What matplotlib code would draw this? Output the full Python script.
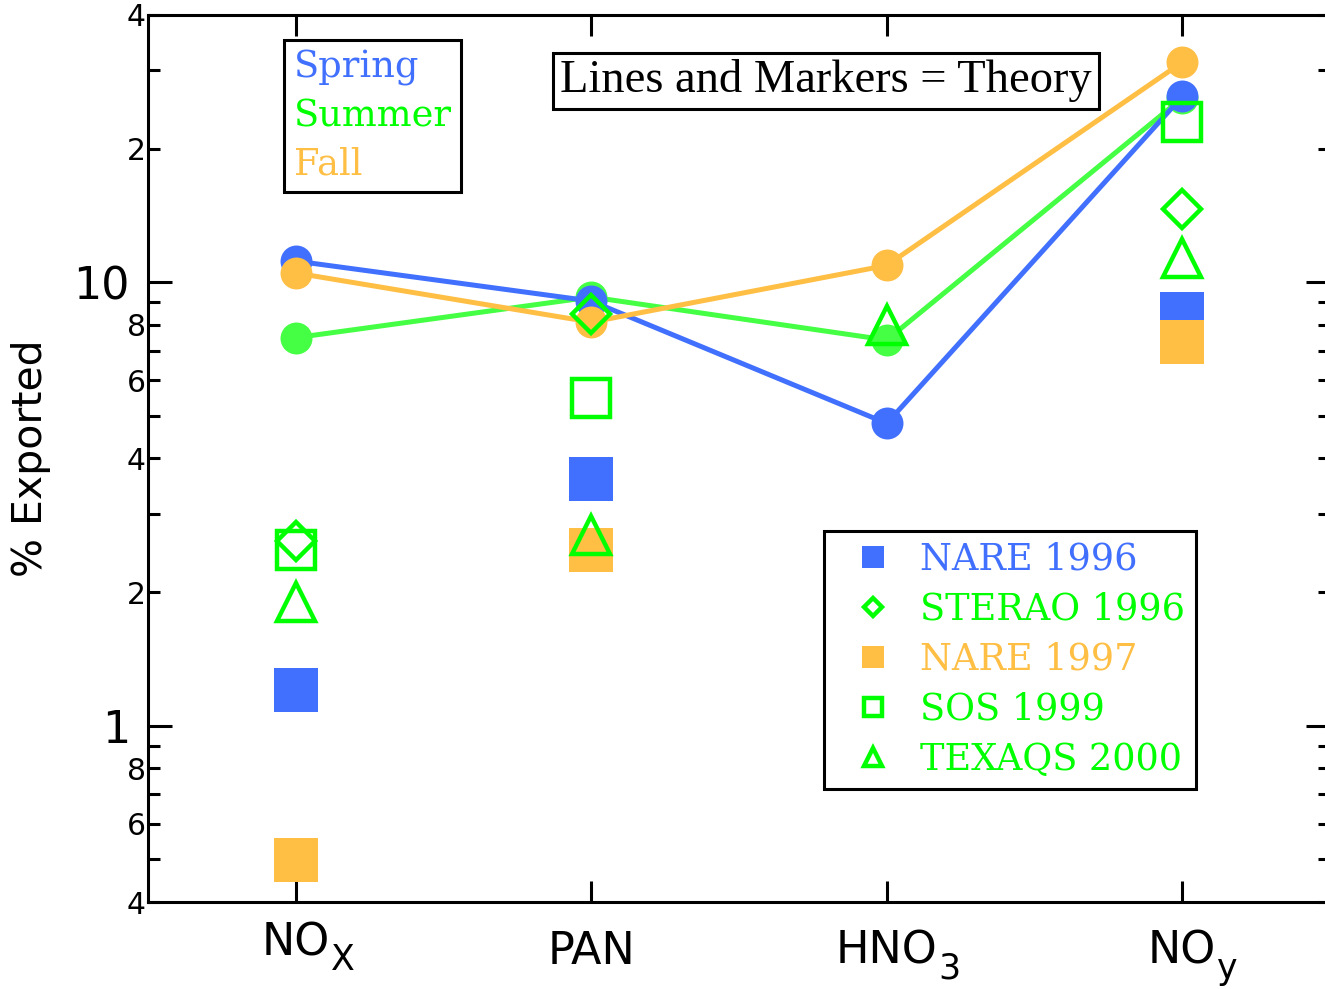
import numpy as np
import matplotlib
matplotlib.use("Agg")
import matplotlib.pyplot as plt
from matplotlib.lines import Line2D
from matplotlib.ticker import FixedLocator, FixedFormatter

# ---- data -------------------------------------------------------------
species_main = ["NO", "PAN", "HNO", "NO"]
species_sub = ["X", "", "3", "y"]

# model results (percent exported)
spring = [11.15, 9.06, 4.80, 26.2]
summer = [7.49, 9.25, 7.40, 26.0]
fall = [10.48, 8.12, 10.9, 31.3]

# field campaign estimates (nan = not available)
nare_1996 = [1.20, 3.60, np.nan, 8.49]
sterao_1996 = [2.60, 8.47, np.nan, 14.6]
nare_1997 = [0.497, 2.49, np.nan, 7.34]
sos_1999 = [2.49, 5.49, np.nan, 22.9]
texaqs_2000 = [1.90, 2.69, 8.0, 11.3]

season_names = ["Spring", "Summer", "Fall"]
campaign_names = ["NARE 1996", "STERAO 1996", "NARE 1997", "SOS 1999", "TEXAQS 2000"]

major_ticks = [1, 10]
major_labels = ["1", "10"]
minor_ticks = [0.4, 0.5, 0.6, 0.7, 0.8, 0.9, 2, 3, 4, 5, 6, 7, 8, 9, 20, 30, 40]
minor_labels = ["4", "", "6", "", "8", "", "2", "", "4", "", "6", "", "8", "", "2", "", "4"]

# ---- styling ----------------------------------------------------------
BLUE = "#4170ff"
GREEN_LINE = "#44ff44"
GREEN = "#00ff00"
ORANGE = "#ffbe44"
LW_AX = 2.2

fig = plt.figure(figsize=(13.25, 9.89), dpi=100)
ax = fig.add_axes([148 / 1325, 87 / 989, 1182 / 1325, 887 / 989])
ax.set_yscale("log")
ax.set_xlim(0.5, 4.5)
ax.set_ylim(0.4, 40)

x = np.arange(1, len(species_main) + 1)

# theory: lines with filled circles
for vals, col in [(summer, GREEN_LINE), (spring, BLUE), (fall, ORANGE)]:
    ax.plot(x, vals, color=col, lw=3.6, marker="o", ms=23, mew=0)

# observations
ax.plot(x, nare_1996, ls="none", marker="s", ms=31, mew=0, color=BLUE)
ax.plot(x, sterao_1996, ls="none", marker="D", ms=19.6, mfc="none", mec=GREEN, mew=3.2)
ax.plot(x, nare_1997, ls="none", marker="s", ms=31, mew=0, color=ORANGE)
ax.plot(x, sos_1999, ls="none", marker="s", ms=27.7, mfc="none", mec=GREEN, mew=3.2)
ax.plot(x, texaqs_2000, ls="none", marker="^", ms=27, mfc="none", mec=GREEN, mew=3.2)

# ---- axes -------------------------------------------------------------
for s in ax.spines.values():
    s.set_linewidth(LW_AX)

ax.yaxis.set_major_locator(FixedLocator(major_ticks))
ax.yaxis.set_major_formatter(FixedFormatter(major_labels))
ax.yaxis.set_minor_locator(FixedLocator(minor_ticks))
ax.yaxis.set_minor_formatter(FixedFormatter(minor_labels))
ax.tick_params(axis="y", which="major", direction="in", length=17.3, width=LW_AX,
               labelsize=32, pad=13, left=True, right=True)
ax.tick_params(axis="y", which="minor", direction="in", length=8.6, width=LW_AX,
               labelsize=21.5, pad=1.5, left=True, right=True)

ax.set_xticks(x)
ax.tick_params(axis="x", which="major", direction="in", length=15, width=LW_AX,
               top=True, bottom=True, labelbottom=False)
ax.tick_params(axis="x", which="minor", top=False, bottom=False)

# category labels with chemical subscripts
label_tops = [922, 931, 931, 931]
for xi, main, sub, top in zip(x, species_main, species_sub, label_tops):
    t = ax.annotate(main, xy=(xi, 0), xycoords=("data", "axes fraction"),
                    xytext=(0, -(top - 1 - 902) * 0.72), textcoords="offset points",
                    ha="center", va="top", fontsize=32, family="DejaVu Sans")
    if sub:
        ax.annotate(sub, xy=(1, 0), xycoords=t, xytext=(0.5, -4),
                    textcoords="offset points", ha="left", va="baseline",
                    fontsize=25, family="DejaVu Sans")

ax.set_ylabel("% Exported", fontsize=29.5, family="DejaVu Sans", va="center")
ax.yaxis.set_label_coords((31.5 - 148) / 1182, 0.5)

# ---- legends ----------------------------------------------------------
season_handles = [Line2D([], [], ls="none") for _ in season_names]
leg1 = ax.legend(season_handles, season_names, labelcolor=[BLUE, GREEN, ORANGE],
                 prop={"family": "DejaVu Serif", "size": 26.5},
                 handlelength=0, handletextpad=0, borderpad=0.26, labelspacing=0.33,
                 loc="upper left", bbox_to_anchor=(284 / 1325, 1 - 40 / 989),
                 bbox_transform=fig.transFigure, borderaxespad=0,
                 fancybox=False, edgecolor="black", framealpha=1)
leg1.get_frame().set_linewidth(LW_AX)
ax.add_artist(leg1)

campaign_handles = [
    Line2D([], [], ls="none", marker="s", ms=16.5, mew=0, color=BLUE),
    Line2D([], [], ls="none", marker="D", ms=8.9, mfc="none", mec=GREEN, mew=3.2),
    Line2D([], [], ls="none", marker="s", ms=16.5, mew=0, color=ORANGE),
    Line2D([], [], ls="none", marker="s", ms=12.6, mfc="none", mec=GREEN, mew=3.2),
    Line2D([], [], ls="none", marker="^", ms=12.6, mfc="none", mec=GREEN, mew=3.2),
]
leg2 = ax.legend(campaign_handles, campaign_names,
                 labelcolor=[BLUE, GREEN, ORANGE, GREEN, GREEN],
                 prop={"family": "DejaVu Serif", "size": 26.4},
                 handlelength=2.07, handletextpad=0.26, borderpad=0.3, labelspacing=0.38,
                 numpoints=1, loc="upper left", bbox_to_anchor=(824 / 1325, 1 - 531 / 989),
                 bbox_transform=fig.transFigure, borderaxespad=0,
                 fancybox=False, edgecolor="black", framealpha=1)
leg2.get_frame().set_linewidth(LW_AX)

fig.text(826 / 1325, 1 - 81 / 989, "Lines and Markers = Theory", ha="center", va="center",
         family="Liberation Serif", size=33.5,
         bbox=dict(boxstyle="square,pad=0.15", fc="white", ec="black", lw=LW_AX))

fig.savefig("out.png", dpi=100)
